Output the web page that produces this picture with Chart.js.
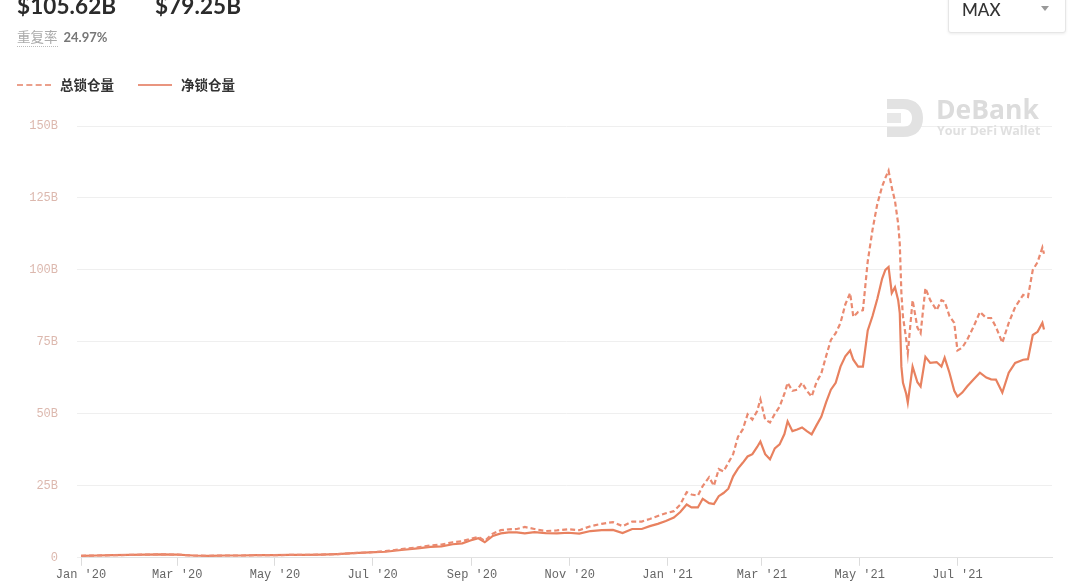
<!DOCTYPE html>
<html>
<head>
<meta charset="utf-8">
<script src="https://cdn.jsdelivr.net/npm/chart.js@4.4.1/dist/chart.umd.min.js"></script>
<style>
  html, body { margin:0; padding:0; background:#fff; width:1080px; height:584px; overflow:hidden; font-family: Lato, "Noto Sans CJK SC", sans-serif; }
  #wrap { position:absolute; left:0; top:0; width:1080px; height:584px; }
  .big { position:absolute; top:-8px; font-size:22.5px; font-weight:700; color:#2b2b2b; letter-spacing:0.1px; }
  .rate { position:absolute; left:17px; top:26px; font-size:13px; color:#777; }
  .rate .lbl { color:#aaa; font-family:"Noto Sans CJK SC", sans-serif; border-bottom:1px dotted #bbb; margin-right:6px; font-size:13.5px; }
  .rate b { font-weight:700; color:#777; }
  .sel { position:absolute; left:948px; top:-6px; width:116px; height:37px; border:1px solid #e6e6e6; border-radius:3px; box-shadow:0 1px 3px rgba(0,0,0,0.08); background:#fff; }
  .sel span { position:absolute; left:13px; top:4px; font-size:17px; color:#333; font-weight:500; }
  .sel i { position:absolute; left:92px; top:11px; width:0; height:0; border-left:4px solid transparent; border-right:4px solid transparent; border-top:5px solid #999; }
  .leg { position:absolute; top:74px; font-size:13.5px; color:#333; font-family:"Noto Sans CJK SC", sans-serif; font-weight:700; }
  .leg .ln { display:inline-block; width:34px; vertical-align:middle; margin-right:9px; position:relative; top:-1px; }
  .wm { position:absolute; left:885px; top:97px; }
  .wm .t1 { position:absolute; left:51px; top:-6px; font-size:26.5px; font-weight:700; color:#dcdcdc; font-family:"Open Sans", sans-serif; }
  .wm .t2 { position:absolute; left:52px; top:25px; font-size:12.5px; font-weight:700; color:#e0e0e0; white-space:nowrap; font-family:"Open Sans", sans-serif; }
</style>
</head>
<body>
<div id="wrap"><canvas id="c" width="1080" height="584"></canvas></div>
<div class="big" style="left:17px">$105.62B</div>
<div class="big" style="left:155px">$79.25B</div>
<div class="rate"><span class="lbl">重复率</span><b>24.97%</b></div>
<div class="sel"><span>MAX</span><i></i></div>
<div class="leg" style="left:17px"><span class="ln" style="border-top:2px dashed #eba08c"></span>总锁仓量</div>
<div class="leg" style="left:138px"><span class="ln" style="border-top:2px solid #e9957f"></span>净锁仓量</div>
<div class="wm">
  <svg width="40" height="42" viewBox="0 0 40 42">
    <path d="M2 2 H18 C32 2 38 10 38 21 C38 32 32 40 18 40 H2 V30 H18 C24 30 27 26 27 21 C27 16 24 12 18 12 H2 Z" fill="#e2e2e2"/>
    <rect x="2" y="16" width="14" height="10" fill="#e8e8e8"/>
  </svg>
  <div class="t1">DeBank</div>
  <div class="t2">Your DeFi Wallet</div>
</div>
<script>
// days since 2020-01-01
const days = [0,10,20,30,40,50,60,70,80,90,100,110,120,130,140,150,160,170,180,190,200,210,218,225,232,238,243,248,252,257,262,267,272,277,283,290,297,304,311,318,325,332,338,344,350,355,360,365,370,374,378,381,385,388,392,395,398,401,404,407,410,413,416,419,422,424,427,430,433,436,439,441,444,447,450,453,456,459,462,465,468,471,474,477,480,482,485,488,491,494,497,500,502,504,506,508,510,511,512,513,515,516,519,522,524,527,530,534,537,539,542,545,547,550,553,557,561,565,568,571,575,579,583,588,591,594,597,600,601];
// 总锁仓量 (B)
const totalLocked = [0.7,0.8,0.9,1.0,1.1,1.2,1.1,0.8,0.7,0.8,0.8,0.9,0.9,1.0,1.0,1.1,1.3,1.6,1.9,2.3,3.0,3.6,4.3,4.6,5.4,5.8,6.6,7.3,5.9,8.4,9.6,9.9,10.0,10.7,10.0,9.3,9.5,9.9,9.6,11.0,11.8,12.4,11.0,12.6,12.6,13.5,14.5,15.5,16.2,18.5,22.8,22.0,21.6,24.9,28.0,25.0,30.8,30.0,33.0,36.0,42.0,44.6,49.8,48.0,51.0,55.0,48.0,47.0,50.0,52.5,57.0,60.8,58.0,58.4,60.8,58.0,56.0,61.0,64.0,70.0,75.7,78.0,81.6,88.0,92.0,83.7,85.4,86.0,103.0,114.0,123.0,129.0,132.0,134.5,128.6,124.0,116.0,109.0,92.0,83.7,76.0,71.0,89.5,80.0,78.0,93.7,89.5,86.0,89.5,89.0,84.0,81.6,72.0,73.0,75.7,80.2,85.4,83.3,83.3,80.2,74.7,81.6,87.1,91.3,90.6,100.0,102.7,107.8,105.6];
// 净锁仓量 (B)
const netLocked = [0.7,0.8,0.9,1.0,1.1,1.2,1.1,0.8,0.7,0.8,0.8,0.9,0.9,1.0,1.0,1.1,1.3,1.6,1.9,2.1,2.7,3.3,3.8,4.0,4.7,5.0,6.0,6.8,5.4,7.6,8.5,8.8,8.8,8.5,8.9,8.6,8.5,8.7,8.4,9.3,9.6,9.7,8.6,10.0,10.0,11.0,11.8,12.8,14.0,15.9,18.5,17.5,17.5,20.5,19.0,18.7,21.4,22.5,24.0,28.3,31.0,33.0,35.2,36.0,38.5,40.4,36.0,34.2,38.0,39.4,43.0,47.4,44.0,44.6,45.3,44.0,42.9,46.0,49.0,54.0,58.4,60.8,66.4,70.0,72.0,68.8,66.4,66.4,79.0,84.0,90.0,97.0,100.0,101.0,92.0,94.0,89.5,85.0,66.4,60.8,57.0,53.9,66.4,61.0,59.5,69.8,67.7,68.0,66.4,69.5,64.3,58.0,56.0,57.4,59.5,61.9,64.3,62.6,62.0,61.9,57.4,64.3,67.7,68.8,69.0,77.4,78.5,81.6,79.3];
const tickDays = [0,60,121,182,244,305,366,425,486,547];
const tickLabels = ["Jan '20","Mar '20","May '20","Jul '20","Sep '20","Nov '20","Jan '21","Mar '21","May '21","Jul '21"];
const yTicks = [0,25,50,75,100,125,150];

const toXY = arr => arr.map((v,i)=>({x:days[i], y:v}));

new Chart(document.getElementById('c'), {
  type: 'line',
  data: {
    datasets: [
      { label:'总锁仓量', data: toXY(totalLocked), borderColor:'#ea8a70', borderWidth:2.2, borderDash:[5,3], pointRadius:0, tension:0, fill:false },
      { label:'净锁仓量', data: toXY(netLocked), borderColor:'#e8815f', borderWidth:2.2, pointRadius:0, tension:0, fill:false }
    ]
  },
  options: {
    responsive:false, animation:false,
    layout:{ padding:{ top:126, right:28, bottom:0, left:0 } },
    plugins:{ legend:{display:false}, tooltip:{enabled:false} },
    scales:{
      x:{
        type:'linear', min:0, max:606,
        afterBuildTicks: s => { s.ticks = tickDays.map(v=>({value:v})); },
        afterFit: s => { s.height = 25; },
        grid:{ drawOnChartArea:false, drawTicks:true, tickLength:8, color:'#dcdcdc' },
        border:{ display:true, color:'#e2e2e2' },
        ticks:{ autoSkip:false, maxRotation:0, padding:2, color:'#666',
          font:{ family:'"Liberation Mono", monospace', size:12 },
          callback:(v)=>{ const i=tickDays.indexOf(v); return i>=0?tickLabels[i]:''; } }
      },
      y:{
        min:0, max:150,
        afterBuildTicks: s => { s.ticks = yTicks.map(v=>({value:v})); },
        afterFit: s => { s.width = 81; },
        grid:{ color:'#efefef', tickLength:4, drawTicks:true },
        border:{ display:false },
        ticks:{ padding:19, color:'#dcb8ae',
          font:{ family:'"Liberation Mono", monospace', size:12 },
          callback:v=> v===0 ? '0' : v+'B' }
      }
    }
  }
});
</script>
</body>
</html>
